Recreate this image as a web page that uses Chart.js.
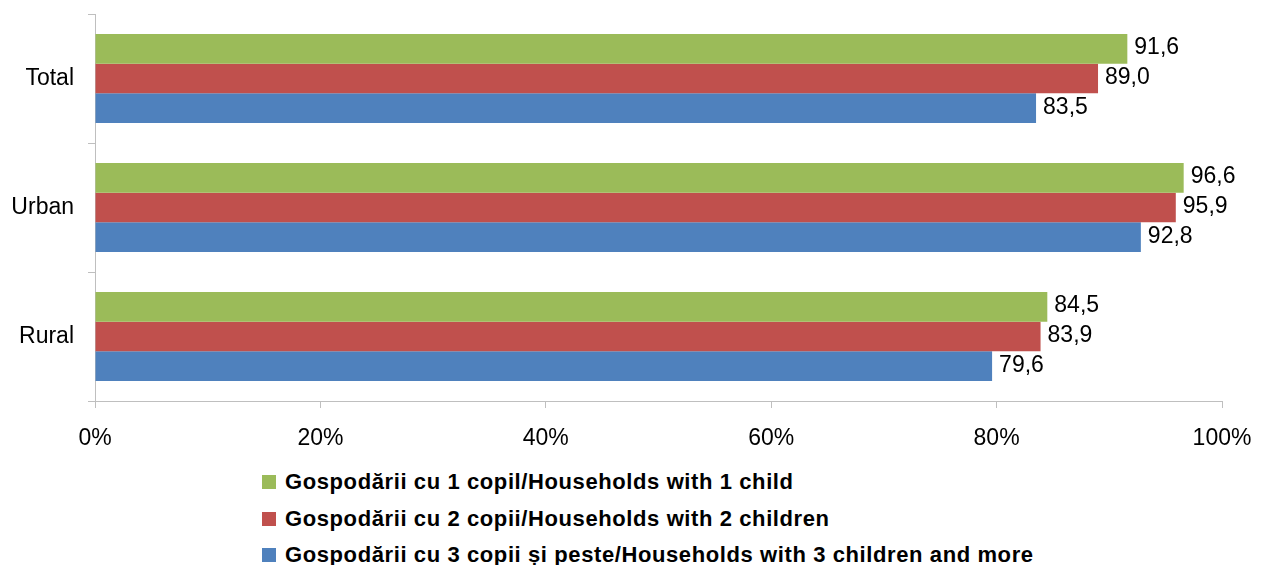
<!DOCTYPE html>
<html>
<head>
<meta charset="utf-8">
<script src="https://cdn.jsdelivr.net/npm/chart.js@4/dist/chart.umd.min.js"></script>
<style>
  body { margin: 0; background: #fff; font-family: "Liberation Sans", Arial, sans-serif; }
  #wrap { position: relative; width: 1262px; height: 565px; overflow: hidden; }
  #grafic { position: absolute; left: 0; top: 0; }
  #legenda { position: absolute; left: 262px; top: 464px; }
  .item { display: flex; align-items: center; height: 36.5px; font-weight: bold; font-size: 22px; letter-spacing: 0.6px; color: #000; white-space: nowrap; }
  .patrat { width: 14px; height: 14px; margin-right: 9px; flex: none; }
</style>
</head>
<body>
<div id="wrap">
  <canvas id="grafic" width="1262" height="460"></canvas>
  <div id="legenda"></div>
</div>
<script>
const categorii = ['Total', 'Urban', 'Rural'];
const copil1 = [91.6, 96.6, 84.5];
const copii2 = [89.0, 95.9, 83.9];
const copii3 = [83.5, 92.8, 79.6];
const etichete = [
  'Gospodării cu 1 copil/Households with 1 child',
  'Gospodării cu 2 copii/Households with 2 children',
  'Gospodării cu 3 copii și peste/Households with 3 children and more'
];
const culori = ['#9BBB59', '#C0504D', '#4F81BD'];

// etichete cu valori la capatul barelor
const valoriPlugin = {
  id: 'valori',
  afterDatasetsDraw(chart) {
    const ctx = chart.ctx;
    ctx.save();
    ctx.font = '23px "Liberation Sans", Arial, sans-serif';
    ctx.fillStyle = '#000';
    ctx.textBaseline = 'middle';
    chart.data.datasets.forEach((ds, i) => {
      chart.getDatasetMeta(i).data.forEach((bar, j) => {
        ctx.fillText(ds.data[j].toFixed(1).replace('.', ','), bar.x + 7, bar.y - 1);
      });
    });
    ctx.restore();
  }
};

const ctx = document.getElementById('grafic').getContext('2d');
const grafic = new Chart(ctx, {
  type: 'bar',
  data: {
    labels: categorii,
    datasets: [
      { label: etichete[0], data: copil1, backgroundColor: culori[0] },
      { label: etichete[1], data: copii2, backgroundColor: culori[1] },
      { label: etichete[2], data: copii3, backgroundColor: culori[2] }
    ]
  },
  options: {
    indexAxis: 'y',
    responsive: false,
    animation: false,
    layout: { padding: { top: 14, right: 40, left: 0, bottom: 0 } },
    datasets: { bar: { categoryPercentage: 0.69, barPercentage: 1 } },
    plugins: {
      legend: { display: false },
      tooltip: { enabled: false }
    },
    scales: {
      x: {
        min: 0,
        max: 100,
        ticks: {
          stepSize: 20,
          padding: 17,
          color: '#000',
          font: { size: 23, family: '"Liberation Sans", Arial, sans-serif' },
          callback: v => v + '%'
        },
        grid: { drawOnChartArea: false, tickLength: 7, color: '#BFBFBF' },
        border: { color: '#BFBFBF' },
        afterFit: s => { s.height = 59; s.paddingLeft = 0; s.paddingRight = 0; }
      },
      y: {
        ticks: {
          padding: 14,
          color: '#000',
          font: { size: 23, family: '"Liberation Sans", Arial, sans-serif' }
        },
        grid: { drawOnChartArea: false, tickLength: 7, color: '#BFBFBF', offset: true },
        border: { color: '#BFBFBF' },
        afterFit: s => { s.width = 95; s.paddingTop = 0; s.paddingBottom = 0; }
      }
    }
  },
  plugins: [valoriPlugin]
});

const legenda = document.getElementById('legenda');
etichete.forEach((t, i) => {
  const el = document.createElement('div');
  el.className = 'item';
  el.innerHTML = '<span class="patrat" style="background:' + culori[i] + '"></span><span>' + t + '</span>';
  legenda.appendChild(el);
});
</script>
</body>
</html>
